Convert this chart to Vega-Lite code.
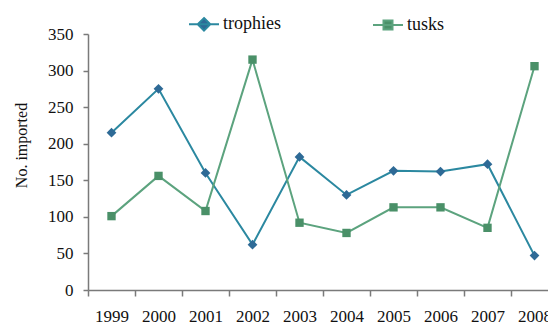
{
  "$schema": "https://vega.github.io/schema/vega-lite/v6.json",
  "autosize": {"type": "none"},
  "width": 470,
  "height": 256,
  "padding": {"left": 88, "top": 34, "right": 0, "bottom": 34},
  "background": "white",
  "config": {
    "view": {"stroke": null},
    "font": "Liberation Serif",
    "axis": {"domainColor": "#7a7a7a", "tickColor": "#7a7a7a", "domainWidth": 1.5, "tickWidth": 1.5, "labelColor": "#111", "labelFont": "Liberation Serif", "labelFontSize": 17, "grid": false}
  },
  "data": {
    "values": [
      {"year": "1999", "series": "trophies", "n": 215},
      {"year": "2000", "series": "trophies", "n": 275},
      {"year": "2001", "series": "trophies", "n": 160},
      {"year": "2002", "series": "trophies", "n": 62},
      {"year": "2003", "series": "trophies", "n": 182},
      {"year": "2004", "series": "trophies", "n": 130},
      {"year": "2005", "series": "trophies", "n": 163},
      {"year": "2006", "series": "trophies", "n": 162},
      {"year": "2007", "series": "trophies", "n": 172},
      {"year": "2008", "series": "trophies", "n": 47},
      {"year": "1999", "series": "tusks", "n": 101},
      {"year": "2000", "series": "tusks", "n": 156},
      {"year": "2001", "series": "tusks", "n": 108},
      {"year": "2002", "series": "tusks", "n": 315},
      {"year": "2003", "series": "tusks", "n": 92},
      {"year": "2004", "series": "tusks", "n": 78},
      {"year": "2005", "series": "tusks", "n": 113},
      {"year": "2006", "series": "tusks", "n": 113},
      {"year": "2007", "series": "tusks", "n": 85},
      {"year": "2008", "series": "tusks", "n": 306}
    ]
  },
  "encoding": {
    "x": {
      "field": "year", "type": "ordinal",
      "scale": {"type": "band", "paddingInner": 0, "paddingOuter": 0},
      "axis": {"title": null, "labelAngle": 0, "tickBand": "extent", "tickSize": 6, "labelPadding": 12, "labelBaseline": "top"}
    },
    "y": {
      "field": "n", "type": "quantitative",
      "scale": {"domain": [0, 350], "nice": false},
      "axis": {
        "title": "No. imported", "titleFont": "Liberation Serif", "titleFontSize": 16, "titleFontWeight": "normal", "titleColor": "#111",
        "titleX": -67, "titleY": 111, "titleBaseline": "middle", "titleAngle": -90,
        "values": [0, 50, 100, 150, 200, 250, 300, 350], "tickSize": 5, "labelPadding": 10
      }
    }
  },
  "layer": [
    {
      "mark": {"type": "line", "strokeWidth": 2},
      "encoding": {
        "stroke": {
          "field": "series", "type": "nominal",
          "scale": {"domain": ["trophies", "tusks"], "range": ["#2b88a0", "#5ca37e"]},
          "legend": {
            "title": null, "orient": "none", "direction": "horizontal",
            "legendX": 100, "legendY": -26,
            "labelFont": "Liberation Serif", "labelFontSize": 18, "labelColor": "#111",
            "labelOffset": 3, "columnPadding": 88, "symbolSize": 900,
            "encode": {
              "symbols": {
                "update": {
                  "shape": {"signal": "datum.value === 'trophies' ? 'M-1,0L1,0M0,-0.42L0.42,0L0,0.42L-0.42,0Z' : 'M-1,0L1,0M-0.3,-0.3L0.3,-0.3L0.3,0.3L-0.3,0.3Z'"},
                  "fill": {"signal": "datum.value === 'trophies' ? '#2e6a96' : '#4a9068'"},
                  "stroke": {"signal": "datum.value === 'trophies' ? '#2b88a0' : '#5ca37e'"},
                  "strokeWidth": {"value": 2},
                  "opacity": {"value": 1}
                }
              }
            }
          }
        }
      }
    },
    {
      "mark": {"type": "point", "filled": true, "opacity": 1},
      "encoding": {
        "shape": {"condition": {"test": "datum.series === 'trophies'", "value": "diamond"}, "value": "square"},
        "fill": {"condition": {"test": "datum.series === 'trophies'", "value": "#2e6a96"}, "value": "#4a9068"},
        "size": {"condition": {"test": "datum.series === 'trophies'", "value": 95}, "value": 70}
      }
    }
  ]
}
